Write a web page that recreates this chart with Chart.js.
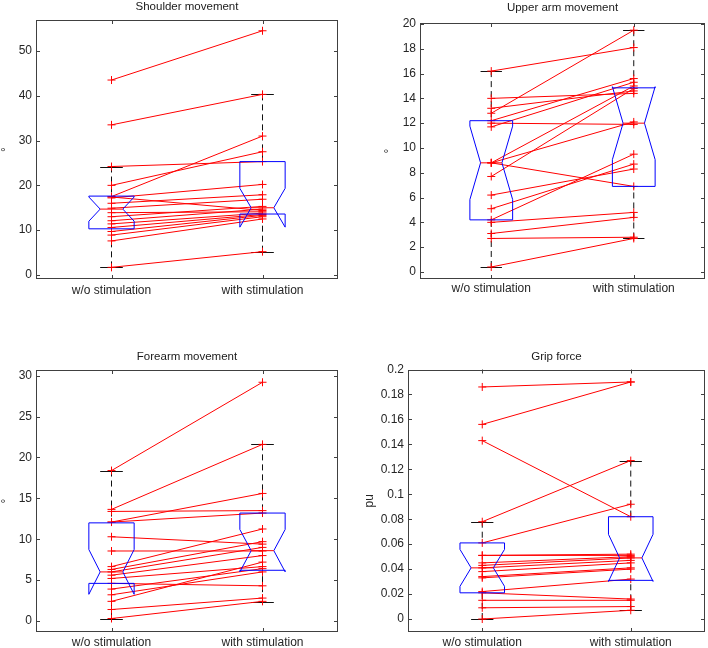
<!DOCTYPE html>
<html lang="en">
<head>
    <meta charset="UTF-8">
    <title>Movement and grip force with / without stimulation</title>
    <style>
        body {
            margin: 0;
            background: #fff;
            width: 708px;
            height: 648px;
            position: relative;
            overflow: hidden;
            font-family: Arial, "Liberation Sans", sans-serif;
        }
        .panel {
            position: absolute;
        }
        .panel canvas {
            display: block;
        }
    </style>
</head>
<body>
    <div class="panel" style="left:0;top:0;width:354px;height:320px"><canvas id="c1"></canvas></div>
    <div class="panel" style="left:354px;top:0;width:354px;height:320px"><canvas id="c2"></canvas></div>
    <div class="panel" style="left:0;top:320px;width:354px;height:328px"><canvas id="c3"></canvas></div>
    <div class="panel" style="left:354px;top:320px;width:354px;height:328px"><canvas id="c4"></canvas></div>

    <script src="https://cdn.jsdelivr.net/npm/chart.js"></script>
    <script>
        // Datos
        const categories = ['w/o stimulation', 'with stimulation'];
        const titles = ['Shoulder movement', 'Upper arm movement', 'Forearm movement', 'Grip force'];
        const yLabels = ['°', '°', '°', 'pu'];
        const subjects = 18;

        // pares: sujeto k va de without[k] a with[k]
        const shoulderWithout = [43.5, 33.5, 24.2, 20.0, 17.5, 17.4, 17.2, 16.0, 14.9, 13.9, 13.0, 12.1, 11.4, 10.6, 9.7, 8.9, 7.6, 1.7];
        const shoulderWith = [54.5, 40.3, 25.3, 27.5, 31.0, 14.4, 20.2, 17.9, 16.9, 14.1, 15.3, 14.7, 13.8, 13.5, 13.3, 13.0, 12.5, 5.2];
        const upperArmWithout = [16.2, 12.8, 14.0, 13.2, 12.2, 12.0, 11.7, 8.8, 8.8, 8.8, 7.7, 6.2, 5.1, 4.2, 4.0, 3.1, 2.7, 0.4];
        const upperArmWith = [18.1, 19.5, 14.4, 14.6, 15.6, 11.9, 15.3, 15.0, 12.1, 6.9, 14.8, 8.3, 8.7, 9.5, 4.8, 4.4, 2.8, 2.7];
        const forearmWithout = [18.4, 13.65, 13.4, 12.1, 12.1, 10.3, 8.56, 6.65, 6.3, 6.0, 5.6, 5.2, 4.6, 3.9, 3.2, 2.4, 1.4, 0.3];
        const forearmWith = [29.2, 21.6, 13.5, 15.6, 13.2, 9.4, 8.56, 11.25, 9.7, 9.0, 8.0, 6.65, 4.3, 6.4, 6.0, 7.2, 2.8, 2.4];
        const gripWithout = [0.186, 0.156, 0.143, 0.078, 0.061, 0.051, 0.051, 0.045, 0.043, 0.041, 0.038, 0.034, 0.033, 0.022, 0.021, 0.015, 0.009, 0.000];
        const gripWith = [0.190, 0.190, 0.082, 0.127, 0.092, 0.051, 0.052, 0.050, 0.049, 0.047, 0.045, 0.041, 0.040, 0.032, 0.016, 0.015, 0.010, 0.007];

        // cajas: [q1, mediana, q3, bigote inferior, bigote superior]
        const shoulderBoxWithout = [10.3, 14.7, 17.6, 1.7, 24.2];
        const shoulderBoxWith = [13.6, 15.0, 25.3, 5.2, 40.3];
        const upperArmBoxWithout = [4.2, 8.8, 12.2, 0.4, 16.2];
        const upperArmBoxWith = [6.9, 12.0, 14.85, 2.7, 19.5];
        const forearmBoxWithout = [4.6, 6.0, 12.0, 0.3, 18.4];
        const forearmBoxWith = [6.2, 8.6, 13.2, 2.3, 21.6];
        const gripBoxWithout = [0.021, 0.041, 0.061, 0.0, 0.078];
        const gripBoxWith = [0.031, 0.049, 0.082, 0.007, 0.127];

        const shoulderTicks = [0, 10, 20, 30, 40, 50];
        const upperArmTicks = [0, 2, 4, 6, 8, 10, 12, 14, 16, 18, 20];
        const forearmTicks = [0, 5, 10, 15, 20, 25, 30];
        const gripTicks = [0, 0.02, 0.04, 0.06, 0.08, 0.1, 0.12, 0.14, 0.16, 0.18, 0.2];

        const shoulderRange = [-0.9, 56.9];
        const upperArmRange = [-0.57, 20.08];
        const forearmRange = [-1.35, 30.7];
        const gripRange = [-0.0104, 0.2];

        // posición de cada panel dentro de su canvas
        const panels = [
            { id: 'c1', title: titles[0], yLabel: yLabels[0], without: shoulderWithout, with: shoulderWith,
              boxes: [shoulderBoxWithout, shoulderBoxWith], ticks: shoulderTicks, range: shoulderRange,
              f: { w: 354, h: 320, left: 36, top: 20, right: 338, bottom: 279 }, titleY: 10, labelX: 6.5, xPad: 4 },
            { id: 'c2', title: titles[1], yLabel: yLabels[1], without: upperArmWithout, with: upperArmWith,
              boxes: [upperArmBoxWithout, upperArmBoxWith], ticks: upperArmTicks, range: upperArmRange,
              f: { w: 354, h: 320, left: 66, top: 23, right: 351, bottom: 279 }, titleY: 11, labelX: 36, xPad: 2 },
            { id: 'c3', title: titles[2], yLabel: yLabels[2], without: forearmWithout, with: forearmWith,
              boxes: [forearmBoxWithout, forearmBoxWith], ticks: forearmTicks, range: forearmRange,
              f: { w: 354, h: 328, left: 36, top: 50, right: 338, bottom: 312 }, titleY: 40, labelX: 6.5, xPad: 3 },
            { id: 'c4', title: titles[3], yLabel: yLabels[3], without: gripWithout, with: gripWith,
              boxes: [gripBoxWithout, gripBoxWith], ticks: gripTicks, range: gripRange,
              f: { w: 354, h: 328, left: 54, top: 49.5, right: 351, bottom: 312 }, titleY: 40, labelX: 16, xPad: 3 }
        ];

        const BOX_W = 0.15;      // media anchura de la caja (unidades x)
        const TEXT = '#262626';

        function matlabPlugin(p) {
            return {
                id: 'matlab_' + p.id,
                beforeDatasetsDraw(chart) {
                    // bigotes discontinuos y topes
                    const ctx = chart.ctx, xs = chart.scales.x, ys = chart.scales.y;
                    ctx.save();
                    ctx.strokeStyle = '#111';
                    ctx.lineWidth = 1;
                    p.boxes.forEach((b, i) => {
                        const [q1, med, q3, lo, hi] = b;
                        const x = xs.getPixelForValue(i + 1);
                        ctx.setLineDash([6, 4]);
                        ctx.beginPath();
                        ctx.moveTo(x, ys.getPixelForValue(hi));
                        ctx.lineTo(x, ys.getPixelForValue(q3));
                        ctx.moveTo(x, ys.getPixelForValue(lo));
                        ctx.lineTo(x, ys.getPixelForValue(q1));
                        ctx.stroke();
                        ctx.setLineDash([]);
                        const l = xs.getPixelForValue(i + 1 - BOX_W / 2), r = xs.getPixelForValue(i + 1 + BOX_W / 2);
                        ctx.beginPath();
                        [lo, hi].forEach(v => {
                            const y = Math.round(ys.getPixelForValue(v)) + 0.5;
                            ctx.moveTo(l, y);
                            ctx.lineTo(r, y);
                        });
                        ctx.stroke();
                    });
                    ctx.restore();
                },
                afterDatasetsDraw(chart) {
                    // cajas con muesca (estilo matlab)
                    const ctx = chart.ctx, xs = chart.scales.x, ys = chart.scales.y;
                    ctx.save();
                    ctx.lineWidth = 1;
                    p.boxes.forEach((b, i) => {
                        const [q1, med, q3] = b;
                        const c = i + 1;
                        const notch = 1.57 * (q3 - q1) / Math.sqrt(subjects);
                        const nLo = med - notch, nHi = med + notch;
                        const pts = [
                            [c - BOX_W, q1], [c - BOX_W, nLo], [c - BOX_W / 2, med], [c - BOX_W, nHi], [c - BOX_W, q3],
                            [c + BOX_W, q3], [c + BOX_W, nHi], [c + BOX_W / 2, med], [c + BOX_W, nLo], [c + BOX_W, q1]
                        ];
                        ctx.strokeStyle = '#0000ff';
                        ctx.beginPath();
                        pts.forEach((pt, k) => {
                            const x = xs.getPixelForValue(pt[0]), y = ys.getPixelForValue(pt[1]);
                            if (k === 0) ctx.moveTo(x, y); else ctx.lineTo(x, y);
                        });
                        ctx.closePath();
                        ctx.stroke();
                        // mediana
                        ctx.strokeStyle = '#ff0000';
                        ctx.beginPath();
                        const ym = ys.getPixelForValue(med);
                        ctx.moveTo(xs.getPixelForValue(c - BOX_W / 2), ym);
                        ctx.lineTo(xs.getPixelForValue(c + BOX_W / 2), ym);
                        ctx.stroke();
                    });
                    ctx.restore();
                },
                afterDraw(chart) {
                    const ctx = chart.ctx, a = chart.chartArea, xs = chart.scales.x, ys = chart.scales.y;
                    ctx.save();
                    // marco y marcas hacia dentro
                    ctx.strokeStyle = '#404040';
                    ctx.lineWidth = 1;
                    ctx.strokeRect(Math.round(a.left) + 0.5, Math.round(a.top) + 0.5,
                        Math.round(a.right) - Math.round(a.left) - 1, Math.round(a.bottom) - Math.round(a.top) - 1);
                    ctx.beginPath();
                    p.ticks.forEach(v => {
                        const y = Math.round(ys.getPixelForValue(v)) + 0.5;
                        ctx.moveTo(a.left, y); ctx.lineTo(a.left + 4, y);
                        ctx.moveTo(a.right, y); ctx.lineTo(a.right - 4, y);
                    });
                    [1, 2].forEach(v => {
                        const x = Math.round(xs.getPixelForValue(v)) + 0.5;
                        ctx.moveTo(x, a.bottom); ctx.lineTo(x, a.bottom - 4);
                        ctx.moveTo(x, a.top); ctx.lineTo(x, a.top + 4);
                    });
                    ctx.stroke();
                    // título
                    ctx.fillStyle = '#1a1a1a';
                    ctx.font = '11.5px Arial, "Liberation Sans", sans-serif';
                    ctx.textAlign = 'center';
                    ctx.textBaseline = 'alphabetic';
                    ctx.fillText(p.title, (a.left + a.right) / 2, p.titleY);
                    // etiqueta eje y
                    ctx.translate(p.labelX, (a.top + a.bottom) / 2);
                    ctx.rotate(-Math.PI / 2);
                    ctx.font = '12px Arial, "Liberation Sans", sans-serif';
                    ctx.fillStyle = TEXT;
                    ctx.textBaseline = 'middle';
                    ctx.fillText(p.yLabel, 0, 0);
                    ctx.restore();
                }
            };
        }

        panels.forEach(p => {
            const f = p.f;
            const pts = [];
            p.without.forEach((v, k) => {
                pts.push({ x: 1, y: v }, { x: 2, y: p.with[k] }, { x: 1.5, y: null });
            });
            new Chart(document.getElementById(p.id), {
                type: 'scatter',
                data: {
                    datasets: [{
                        data: pts,
                        showLine: true,
                        spanGaps: false,
                        borderColor: '#ff0000',
                        borderWidth: 1,
                        pointStyle: 'cross',
                        pointRadius: 4,
                        pointHoverRadius: 4,
                        pointBorderColor: '#ff0000',
                        pointBorderWidth: 1
                    }]
                },
                options: {
                    responsive: true,
                    maintainAspectRatio: false,
                    animation: false,
                    events: [],
                    layout: {
                        autoPadding: false,
                        padding: { left: 0, top: f.top, right: f.w - f.right, bottom: 0 }
                    },
                    plugins: {
                        legend: { display: false },
                        tooltip: { enabled: false },
                        title: { display: false }
                    },
                    scales: {
                        x: {
                            type: 'linear',
                            min: 0.5,
                            max: 2.5,
                            afterBuildTicks: s => { s.ticks = [{ value: 1 }, { value: 2 }]; },
                            afterFit: s => { s.height = f.h - f.bottom; },
                            grid: { display: false, drawTicks: false },
                            border: { display: false },
                            ticks: {
                                autoSkip: false,
                                maxRotation: 0,
                                padding: p.xPad,
                                color: TEXT,
                                font: { size: 12, family: 'Arial, "Liberation Sans", sans-serif' },
                                callback: v => categories[v - 1]
                            }
                        },
                        y: {
                            min: p.range[0],
                            max: p.range[1],
                            afterBuildTicks: s => { s.ticks = p.ticks.map(v => ({ value: v })); },
                            afterFit: s => { s.width = f.left; },
                            grid: { display: false, drawTicks: false },
                            border: { display: false },
                            ticks: {
                                autoSkip: false,
                                padding: 4,
                                color: TEXT,
                                font: { size: 12, family: 'Arial, "Liberation Sans", sans-serif' },
                                callback: v => String(Math.round(v * 100) / 100)
                            }
                        }
                    }
                },
                plugins: [matlabPlugin(p)]
            });
        });
    </script>
</body>
</html>
